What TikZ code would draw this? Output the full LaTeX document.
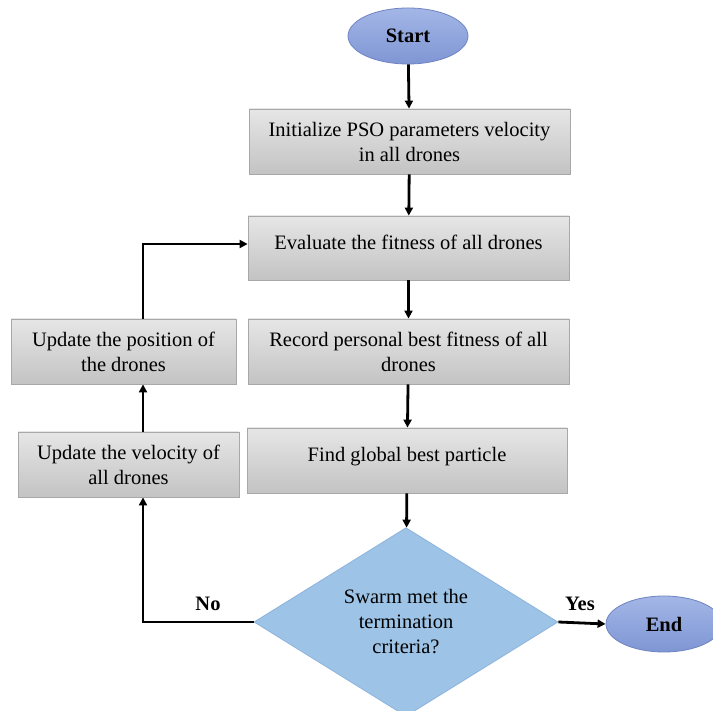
\documentclass[tikz,border=0pt]{standalone}
\usepackage{fontspec}
\setmainfont{Liberation Serif}
\usetikzlibrary{shapes.geometric,arrows.meta}
\definecolor{boxtop}{HTML}{E6E6E6}
\definecolor{boxbot}{HTML}{C3C3C3}
\definecolor{boxline}{HTML}{A8A8A8}
\definecolor{elltop}{HTML}{A3B6E6}
\definecolor{ellbot}{HTML}{7F96D4}
\definecolor{ellline}{HTML}{6F84C2}
\definecolor{diafill}{HTML}{9DC3E6}
\definecolor{dialine}{HTML}{8DB4DE}
\tikzset{
  txt/.style={font=\rmfamily\fontsize{20.5}{25}\selectfont, text=black, align=center},
  procbox/.style={txt, rectangle, draw=boxline, line width=0.8pt, top color=boxtop, bottom color=boxbot, inner sep=0pt},
  term/.style={ellipse, draw=ellline, line width=0.8pt, top color=elltop, bottom color=ellbot, inner sep=0pt,
     font=\rmfamily\fontsize{20.5}{25}\selectfont\bfseries, text=black},
  decision/.style={txt, diamond, draw=dialine, line width=0.8pt, fill=diafill, inner sep=0pt},
  conn/.style={line width=2.8pt, -{Triangle[length=8pt,width=8pt]}},
  lbl/.style={font=\rmfamily\fontsize{20.5}{25}\selectfont\bfseries, text=black, inner sep=0pt}
}
\begin{document}
\begin{tikzpicture}[x=1pt,y=-1pt]
\useasboundingbox (0,0) rectangle (713,711);
\clip (0,0) rectangle (713,711);
\fill[white] (0,0) rectangle (713,711);

\node[term, minimum width=120pt, minimum height=56pt] (start) at (408,36) {Start};
\node[procbox, minimum width=321pt, minimum height=65pt] (init) at (409.5,141.5) {Initialize PSO parameters velocity\\in all drones};
\node[procbox, minimum width=321pt, minimum height=64pt, text depth=12pt] (eval) at (408.5,248) {Evaluate the fitness of all drones};
\node[procbox, minimum width=321pt, minimum height=65pt] (rec) at (408.5,351.5) {Record personal best fitness of all\\drones};
\node[procbox, minimum width=320pt, minimum height=65pt, text depth=13pt] (find) at (407,460.5) {Find global best particle};
\node[procbox, minimum width=225pt, minimum height=65pt] (upos) at (123.5,351.5) {Update the position of\\the drones};
\node[procbox, minimum width=221pt, minimum height=65pt] (uvel) at (128.5,464.5) {Update the velocity of\\all drones};
\node[decision, minimum width=304pt, minimum height=176pt] (dia) at (406,622) {Swarm met the\\termination\\criteria?};
\node[term, minimum width=116pt, minimum height=56pt] (end) at (664,624) {End};

\node[lbl] (yes) at (580,604) {Yes};
\node[lbl] (no) at (208,604) {No};

\coordinate (lx) at (143,0);

\draw[conn] (start) -- (init);
\draw[conn] (init) -- (eval);
\draw[conn] (eval) -- (rec);
\draw[conn] (rec) -- (find);
\draw[conn] (find) -- (dia);
\draw[conn] (dia.east) -- (end.west);
\draw[conn] (dia.west) -| (uvel.south -| lx);
\draw[conn] (uvel.north -| lx) -- (upos.south -| lx);
\draw[conn] (upos.north -| lx) |- ([yshift=4pt]eval.west);
\end{tikzpicture}
\end{document}
